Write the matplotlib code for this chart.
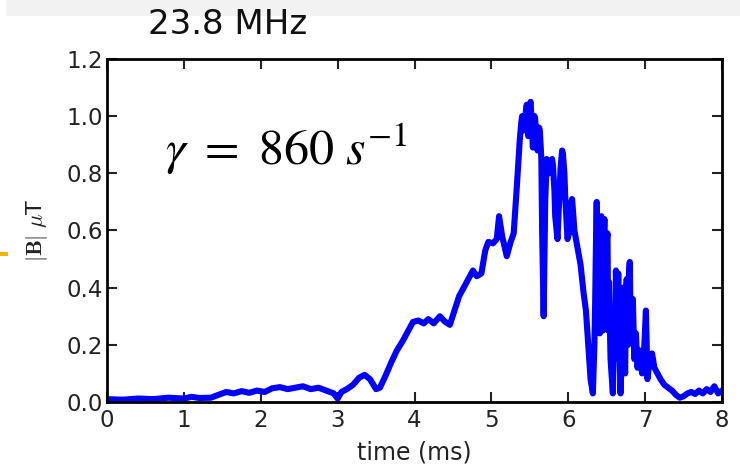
import matplotlib
matplotlib.use('Agg')
import matplotlib.pyplot as plt
from matplotlib.patches import Rectangle

# |B| trace (time in ms, field in uT)
time_ms = [0.00, 0.20, 0.40, 0.60, 0.80, 1.00, 1.10, 1.20, 1.35, 1.45,
           1.55, 1.65, 1.75, 1.85, 1.95, 2.05, 2.15, 2.25, 2.35, 2.45,
           2.55, 2.65, 2.75, 2.85, 2.95, 3.00, 3.05, 3.12, 3.20, 3.28,
           3.35, 3.42, 3.50, 3.55, 3.62, 3.70, 3.77, 3.85, 3.92, 3.98,
           4.05, 4.12, 4.18, 4.25, 4.33, 4.40, 4.46, 4.52, 4.58, 4.64,
           4.70, 4.76, 4.81, 4.87, 4.92, 4.96, 5.02, 5.07, 5.10, 5.14,
           5.20, 5.25, 5.29, 5.33, 5.37, 5.39, 5.40, 5.42, 5.43, 5.45,
           5.46, 5.48, 5.49, 5.50, 5.51, 5.53, 5.54, 5.56, 5.57, 5.59,
           5.60, 5.62, 5.63, 5.65, 5.66, 5.68, 5.70, 5.72, 5.73, 5.75,
           5.77, 5.79, 5.80, 5.82, 5.83, 5.86, 5.90, 5.92, 5.93, 5.95,
           5.96, 5.99, 6.02, 6.04, 6.05, 6.07, 6.08, 6.12, 6.16, 6.20,
           6.23, 6.26, 6.29, 6.32, 6.34, 6.35, 6.36, 6.37, 6.38, 6.39,
           6.40, 6.41, 6.42, 6.43, 6.44, 6.45, 6.46, 6.47, 6.48, 6.49,
           6.50, 6.51, 6.52, 6.53, 6.55, 6.58, 6.60, 6.61, 6.62, 6.63,
           6.64, 6.65, 6.66, 6.68, 6.70, 6.71, 6.72, 6.73, 6.74, 6.75,
           6.76, 6.77, 6.78, 6.79, 6.80, 6.81, 6.82, 6.84, 6.86, 6.88,
           6.90, 6.93, 6.96, 6.99, 7.01, 7.02, 7.03, 7.06, 7.09, 7.12,
           7.16, 7.20, 7.25, 7.30, 7.35, 7.40, 7.45, 7.50, 7.55, 7.60,
           7.65, 7.70, 7.75, 7.80, 7.85, 7.90, 7.95, 8.00]
b_field = [0.010, 0.008, 0.012, 0.010, 0.015, 0.012, 0.018, 0.014, 0.015, 0.025,
           0.035, 0.030, 0.038, 0.032, 0.040, 0.035, 0.048, 0.052, 0.045, 0.050,
           0.055, 0.045, 0.050, 0.040, 0.030, 0.012, 0.035, 0.045, 0.060, 0.085,
           0.095, 0.080, 0.045, 0.050, 0.090, 0.140, 0.180, 0.215, 0.250, 0.280,
           0.285, 0.275, 0.290, 0.275, 0.300, 0.280, 0.270, 0.320, 0.370, 0.400,
           0.430, 0.460, 0.440, 0.450, 0.530, 0.560, 0.555, 0.570, 0.650, 0.580,
           0.510, 0.560, 0.590, 0.750, 0.920, 0.980, 1.000, 0.950, 0.970, 1.020,
           1.040, 0.930, 0.960, 1.040, 1.050, 0.940, 0.890, 1.000, 0.990, 0.900,
           0.880, 0.960, 0.950, 0.850, 0.600, 0.300, 0.700, 0.850, 0.840, 0.800,
           0.820, 0.850, 0.830, 0.740, 0.650, 0.570, 0.820, 0.880, 0.870, 0.800,
           0.720, 0.570, 0.600, 0.700, 0.710, 0.640, 0.600, 0.540, 0.480, 0.380,
           0.320, 0.200, 0.080, 0.030, 0.200, 0.350, 0.550, 0.700, 0.450, 0.600,
           0.300, 0.240, 0.500, 0.650, 0.300, 0.250, 0.550, 0.640, 0.350, 0.300,
           0.560, 0.590, 0.250, 0.420, 0.150, 0.030, 0.300, 0.150, 0.460, 0.300,
           0.220, 0.450, 0.250, 0.030, 0.200, 0.380, 0.400, 0.150, 0.100, 0.350,
           0.430, 0.250, 0.200, 0.450, 0.490, 0.300, 0.250, 0.360, 0.150, 0.240,
           0.120, 0.180, 0.100, 0.200, 0.320, 0.200, 0.080, 0.150, 0.170, 0.120,
           0.100, 0.080, 0.060, 0.050, 0.040, 0.025, 0.015, 0.020, 0.030, 0.035,
           0.028, 0.040, 0.030, 0.045, 0.035, 0.055, 0.030, 0.040]

x_ticks = [0, 1, 2, 3, 4, 5, 6, 7, 8]
y_ticks = [0.0, 0.2, 0.4, 0.6, 0.8, 1.0, 1.2]

fig = plt.figure(figsize=(7.4, 4.7), dpi=100)

# slide background bits around the pasted plot
fig.patches.append(Rectangle((0.008, 0.966), 0.992, 0.034, transform=fig.transFigure,
                             facecolor='#f2f2f2', edgecolor='none', zorder=0))
fig.patches.append(Rectangle((0.0, 0.455), 0.011, 0.008, transform=fig.transFigure,
                             facecolor='#f4b400', edgecolor='none', zorder=0))

ax = fig.add_axes([0.1446, 0.1447, 0.8311, 0.7298])
ax.plot(time_ms, b_field, color='#0000ff', linewidth=4.4, solid_joinstyle='round')

ax.set_xlim(0, 8)
ax.set_ylim(0, 1.2)
ax.set_xticks(x_ticks)
ax.set_yticks(y_ticks)
ax.set_yticklabels([f"{v:.1f}" for v in y_ticks])
ax.tick_params(direction='in', length=7, width=1.5, top=True, right=True,
               labelsize=16.5, colors='#222222', pad=3)
ax.tick_params(axis='x', pad=5)
for s in ax.spines.values():
    s.set_linewidth(2)
    s.set_color('black')

ax.set_xlabel('time (ms)', fontsize=17, color='#222222', labelpad=6)
ax.set_ylabel(r'$|\mathbf{B}|\ \mu$T', fontsize=16, color='#222222',
              math_fontfamily='cm', labelpad=12)

ax.text(0.094, 0.69, r'$\gamma\ =\ 860\ s^{-1}$', transform=ax.transAxes,
        fontsize=36, math_fontfamily='stix', va='baseline', ha='left')

fig.text(0.2, 0.947, '23.8 MHz', fontsize=24.5, family='DejaVu Sans',
         ha='left', va='center', color='#111111')

fig.savefig('out.png', dpi=100)
